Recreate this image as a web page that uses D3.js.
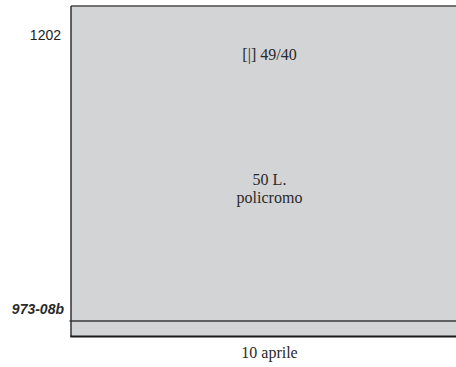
<!DOCTYPE html>
<html>
<head>
<meta charset="utf-8">
<script src="https://cdn.jsdelivr.net/npm/d3@7"></script>
<style>
  body { margin: 0; background: #fff; }
  svg { display: block; }
</style>
</head>
<body>
<div id="chart"></div>
<script>
// data
var columns = ["10 aprile"];
var rowLabels = ["1202", "973-08b"];
var rowPos = [0.087, 0.917];      // where each row label sits (0 = top, 1 = bottom)
var dividers = [0.953];           // horizontal rule inside the panel
var cellLines = ["[|] 49/40", "50 L.", "policromo"];
var cellPos = [0.145, 0.525, 0.579];

var WIDTH = 456,
	HEIGHT = 367,
	MARGINS = { top: 6, bottom: 30, left: 71, right: -12 };

var svg = d3.select("#chart").append("svg")
	.attr("width", WIDTH)
	.attr("height", HEIGHT);

var xScale = d3.scaleBand().domain(columns)
	.range([MARGINS.left, WIDTH - MARGINS.right]);
var yScale = d3.scaleLinear().domain([0, 1])
	.range([MARGINS.top, HEIGHT - MARGINS.bottom - 0.5]);

var x0 = xScale(columns[0]), bw = xScale.bandwidth();

// panel
svg.append("rect")
	.attr("x", x0)
	.attr("y", yScale(0))
	.attr("width", bw)
	.attr("height", yScale(1) - yScale(0))
	.attr("fill", "#d3d4d6");

// borders
svg.append("line")
	.attr("x1", x0).attr("x2", x0 + bw)
	.attr("y1", yScale(0)).attr("y2", yScale(0))
	.attr("stroke", "#4a4a4a").attr("stroke-width", 1.5);
svg.append("line")
	.attr("x1", x0).attr("x2", x0)
	.attr("y1", yScale(0)).attr("y2", yScale(1))
	.attr("stroke", "#333").attr("stroke-width", 1.5);
svg.append("line")
	.attr("x1", x0 - 0.7).attr("x2", x0 + bw)
	.attr("y1", yScale(1)).attr("y2", yScale(1))
	.attr("stroke", "#1a1a1a").attr("stroke-width", 2);

svg.selectAll(".divider")
	.data(dividers)
	.enter().append("line")
	.attr("class", "divider")
	.attr("x1", x0 - 1.5).attr("x2", x0 + bw)
	.attr("y1", function(d) { return yScale(d); })
	.attr("y2", function(d) { return yScale(d); })
	.attr("stroke", "#3a3a3a").attr("stroke-width", 1.5);

// row labels
svg.selectAll(".rowlabel")
	.data(rowLabels)
	.enter().append("text")
	.attr("class", "rowlabel")
	.attr("x", function(d, i) { return i == 0 ? x0 - 10 : x0 - 7; })
	.attr("y", function(d, i) { return yScale(rowPos[i]); })
	.attr("dy", "0.35em")
	.attr("text-anchor", "end")
	.style("font-family", "'Liberation Sans', Arial, sans-serif")
	.style("font-size", "14px")
	.style("font-weight", function(d, i) { return i == 0 ? "normal" : "bold"; })
	.style("font-style", function(d, i) { return i == 0 ? "normal" : "italic"; })
	.attr("fill", function(d, i) { return i == 0 ? "#222" : "#2a2a2a"; })
	.text(function(d) { return d; });

// cell text
svg.selectAll(".cell")
	.data(cellLines)
	.enter().append("text")
	.attr("class", "cell")
	.attr("x", x0 + bw / 2)
	.attr("y", function(d, i) { return yScale(cellPos[i]); })
	.attr("dy", "0.35em")
	.attr("text-anchor", "middle")
	.style("font-family", "'Liberation Serif', 'Times New Roman', serif")
	.style("font-size", "16px")
	.attr("fill", "#2a2a2a")
	.text(function(d) { return d; });

// column label
svg.selectAll(".collabel")
	.data(columns)
	.enter().append("text")
	.attr("class", "collabel")
	.attr("x", function(d) { return xScale(d) + bw / 2; })
	.attr("y", yScale(1) + 16)
	.attr("dy", "0.35em")
	.attr("text-anchor", "middle")
	.style("font-family", "'Liberation Serif', 'Times New Roman', serif")
	.style("font-size", "16px")
	.attr("fill", "#2a2a2a")
	.text(function(d) { return d; });
</script>
</body>
</html>
